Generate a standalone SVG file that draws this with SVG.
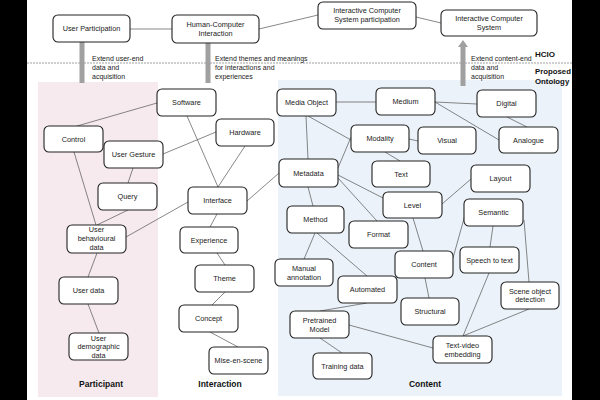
<svg xmlns="http://www.w3.org/2000/svg" width="600" height="400" viewBox="0 0 600 400">
<style>
.n rect{fill:#fff;stroke:#222;stroke-width:1.1}
.n text,.t{font-family:"Liberation Sans",Arial,sans-serif;font-size:7.3px;fill:#222;text-anchor:middle}
.a{font-family:"Liberation Sans",Arial,sans-serif;font-size:7px;fill:#222}
.b{font-family:"Liberation Sans",Arial,sans-serif;font-weight:bold;fill:#111}
#edges line{stroke:#555;stroke-width:0.7}
</style>
<rect x="0" y="0" width="600" height="400" fill="#fff"/>
<rect x="0" y="0" width="27" height="400" fill="#000"/>
<rect x="572" y="0" width="28" height="400" fill="#000"/>
<rect x="38" y="82" width="120" height="315" fill="#f6eaee"/>
<rect x="278" y="80" width="284" height="316" fill="#ebf2f9"/>
<line x1="27" y1="63" x2="572" y2="63" stroke="#888" stroke-width="0.8" stroke-dasharray="2,1"/>
<g id="arrows" fill="#a0a0a0">
<rect x="79.5" y="40" width="5" height="43"/>
<rect x="205.5" y="42" width="5" height="41"/>
<rect x="460.5" y="46" width="5" height="40"/>
<polygon points="458,47 463,40 468,47"/>
</g>
<g id="labels">
<text class="a" x="92" y="61">Extend user-end</text>
<text class="a" x="92" y="70">data and</text>
<text class="a" x="92" y="78.5">acquisition</text>
<text class="a" x="215" y="61">Extend themes and meanings</text>
<text class="a" x="215" y="70">for interactions and</text>
<text class="a" x="215" y="78.5">experiences</text>
<text class="a" x="471" y="61">Extend content-end</text>
<text class="a" x="471" y="70">data and</text>
<text class="a" x="471" y="78.5">acquisition</text>
<text class="b" x="535" y="57" font-size="8">HCIO</text>
<text class="b" x="535" y="74" font-size="7.8">Proposed</text>
<text class="b" x="535" y="84" font-size="7.8">Ontology</text>
<text class="b" x="101" y="387" font-size="8.5" text-anchor="middle">Participant</text>
<text class="b" x="220" y="387" font-size="8.5" text-anchor="middle">Interaction</text>
<text class="b" x="425" y="387" font-size="8.5" text-anchor="middle">Content</text>
</g>
<g id="edges">
<line x1="130" y1="29" x2="172" y2="29"/>
<line x1="259" y1="29" x2="318" y2="15"/>
<line x1="416" y1="17" x2="441" y2="23"/>
<line x1="77" y1="126" x2="157" y2="103"/>
<line x1="74" y1="152" x2="96" y2="225"/>
<line x1="163" y1="154" x2="216" y2="132"/>
<line x1="133" y1="168" x2="128" y2="183"/>
<line x1="128" y1="210" x2="97" y2="225"/>
<line x1="126" y1="237" x2="188" y2="202"/>
<line x1="97" y1="253" x2="88" y2="277"/>
<line x1="88" y1="304" x2="99" y2="333"/>
<line x1="187" y1="116" x2="218" y2="187"/>
<line x1="245" y1="146" x2="218" y2="187"/>
<line x1="247" y1="201" x2="279" y2="173"/>
<line x1="217" y1="214" x2="210" y2="227"/>
<line x1="217" y1="253" x2="225" y2="265"/>
<line x1="225" y1="292" x2="212" y2="305"/>
<line x1="210" y1="332" x2="238" y2="347"/>
<line x1="336" y1="102" x2="376" y2="102"/>
<line x1="435" y1="102" x2="477" y2="104"/>
<line x1="435" y1="102" x2="499" y2="140"/>
<line x1="507" y1="117" x2="527" y2="127"/>
<line x1="308" y1="116" x2="351" y2="140"/>
<line x1="306" y1="116" x2="308" y2="159"/>
<line x1="338" y1="168" x2="351" y2="137"/>
<line x1="409" y1="139" x2="418" y2="141"/>
<line x1="385" y1="152" x2="400" y2="161"/>
<line x1="338" y1="175" x2="383" y2="198"/>
<line x1="338" y1="178" x2="377" y2="221"/>
<line x1="308" y1="187" x2="313" y2="206"/>
<line x1="315" y1="233" x2="304" y2="259"/>
<line x1="317" y1="233" x2="367" y2="276"/>
<line x1="367" y1="303" x2="320" y2="311"/>
<line x1="320" y1="338" x2="342" y2="353"/>
<line x1="349" y1="325" x2="433" y2="348"/>
<line x1="442" y1="204" x2="471" y2="179"/>
<line x1="413" y1="218" x2="423" y2="251"/>
<line x1="453" y1="258" x2="465" y2="215"/>
<line x1="425" y1="278" x2="429" y2="298"/>
<line x1="493" y1="226" x2="490" y2="247"/>
<line x1="524" y1="220" x2="529" y2="282"/>
<line x1="489" y1="273" x2="463" y2="336"/>
<line x1="529" y1="309" x2="463" y2="336"/>
</g>
<g id="n-up" class="n"><rect x="53" y="15" width="77" height="27" rx="5"/><text x="91.5" y="31">User Participation</text></g>
<g id="n-hci" class="n"><rect x="172" y="15" width="87" height="28" rx="5"/><text x="215.5" y="26.5">Human-Computer</text><text x="215.5" y="36">Interaction</text></g>
<g id="n-icsp" class="n"><rect x="318" y="2" width="98" height="27" rx="5"/><text x="367" y="13">Interactive Computer</text><text x="367" y="22">System participation</text></g>
<g id="n-ics" class="n"><rect x="441" y="10" width="96" height="26" rx="5"/><text x="489" y="21">Interactive Computer</text><text x="489" y="30">System</text></g>
<g id="n-software" class="n"><rect x="157" y="89" width="59" height="27" rx="5"/><text x="186.5" y="105">Software</text></g>
<g id="n-control" class="n"><rect x="44" y="126" width="59" height="26" rx="5"/><text x="73.5" y="141.5">Control</text></g>
<g id="n-gesture" class="n"><rect x="104" y="141" width="59" height="27" rx="5"/><text x="133.5" y="157">User Gesture</text></g>
<g id="n-query" class="n"><rect x="98" y="183" width="59" height="27" rx="5"/><text x="127.5" y="199">Query</text></g>
<g id="n-ubd" class="n"><rect x="67" y="225" width="59" height="28" rx="5"/><text x="96.5" y="231.5">User</text><text x="96.5" y="240.5">behavioural</text><text x="96.5" y="249.5">data</text></g>
<g id="n-userdata" class="n"><rect x="59" y="277" width="59" height="27" rx="5"/><text x="88.5" y="293">User data</text></g>
<g id="n-demo" class="n"><rect x="69" y="333" width="59" height="27" rx="5"/><text x="98.5" y="340.5">User</text><text x="98.5" y="349">demographic</text><text x="98.5" y="357.5">data</text></g>
<g id="n-hardware" class="n"><rect x="216" y="119" width="58" height="27" rx="5"/><text x="245" y="135">Hardware</text></g>
<g id="n-interface" class="n"><rect x="188" y="187" width="59" height="27" rx="5"/><text x="217.5" y="203">Interface</text></g>
<g id="n-experience" class="n"><rect x="180" y="227" width="58" height="26" rx="5"/><text x="209" y="242.5">Experience</text></g>
<g id="n-theme" class="n"><rect x="195" y="265" width="59" height="27" rx="5"/><text x="224.5" y="281">Theme</text></g>
<g id="n-concept" class="n"><rect x="179" y="305" width="59" height="27" rx="5"/><text x="208.5" y="321">Concept</text></g>
<g id="n-mise" class="n"><rect x="209" y="347" width="59" height="27" rx="5"/><text x="238.5" y="363">Mise-en-scene</text></g>
<g id="n-mediaobject" class="n"><rect x="277" y="89" width="59" height="27" rx="5"/><text x="306.5" y="105">Media Object</text></g>
<g id="n-medium" class="n"><rect x="376" y="88" width="59" height="27" rx="5"/><text x="405.5" y="104">Medium</text></g>
<g id="n-digital" class="n"><rect x="477" y="90" width="59" height="27" rx="5"/><text x="506.5" y="106">Digital</text></g>
<g id="n-analogue" class="n"><rect x="499" y="127" width="59" height="26" rx="5"/><text x="528.5" y="142.5">Analogue</text></g>
<g id="n-modality" class="n"><rect x="351" y="125" width="58" height="27" rx="5"/><text x="380" y="141">Modality</text></g>
<g id="n-visual" class="n"><rect x="418" y="127" width="58" height="27" rx="5"/><text x="447" y="143">Visual</text></g>
<g id="n-text" class="n"><rect x="372" y="161" width="58" height="26" rx="5"/><text x="401" y="176.5">Text</text></g>
<g id="n-metadata" class="n"><rect x="279" y="159" width="59" height="28" rx="5"/><text x="308.5" y="175.5">Metadata</text></g>
<g id="n-level" class="n"><rect x="383" y="192" width="59" height="26" rx="5"/><text x="412.5" y="207.5">Level</text></g>
<g id="n-layout" class="n"><rect x="471" y="165" width="59" height="27" rx="5"/><text x="500.5" y="181">Layout</text></g>
<g id="n-semantic" class="n"><rect x="464" y="199" width="59" height="27" rx="5"/><text x="493.5" y="215">Semantic</text></g>
<g id="n-method" class="n"><rect x="287" y="206" width="57" height="27" rx="5"/><text x="315.5" y="222">Method</text></g>
<g id="n-format" class="n"><rect x="349" y="221" width="59" height="27" rx="5"/><text x="378.5" y="237">Format</text></g>
<g id="n-content" class="n"><rect x="395" y="251" width="58" height="27" rx="5"/><text x="424" y="267">Content</text></g>
<g id="n-speech" class="n"><rect x="460" y="247" width="59" height="26" rx="5"/><text x="489.5" y="262.5">Speech to text</text></g>
<g id="n-manual" class="n"><rect x="275" y="259" width="58" height="27" rx="5"/><text x="304" y="270.5">Manual</text><text x="304" y="279.5">annotation</text></g>
<g id="n-automated" class="n"><rect x="338" y="276" width="59" height="27" rx="5"/><text x="367.5" y="292">Automated</text></g>
<g id="n-structural" class="n"><rect x="401" y="298" width="58" height="27" rx="5"/><text x="430" y="314">Structural</text></g>
<g id="n-scene" class="n"><rect x="501" y="282" width="58" height="27" rx="5"/><text x="530" y="293.5">Scene object</text><text x="530" y="302">detection</text></g>
<g id="n-pretrained" class="n"><rect x="290" y="311" width="59" height="27" rx="5"/><text x="319.5" y="322.5">Pretrained</text><text x="319.5" y="331.5">Model</text></g>
<g id="n-tve" class="n"><rect x="433" y="336" width="59" height="27" rx="5"/><text x="462.5" y="347.5">Text-video</text><text x="462.5" y="356.5">embedding</text></g>
<g id="n-training" class="n"><rect x="313" y="353" width="59" height="26" rx="5"/><text x="342.5" y="368.5">Training data</text></g>
</svg>
